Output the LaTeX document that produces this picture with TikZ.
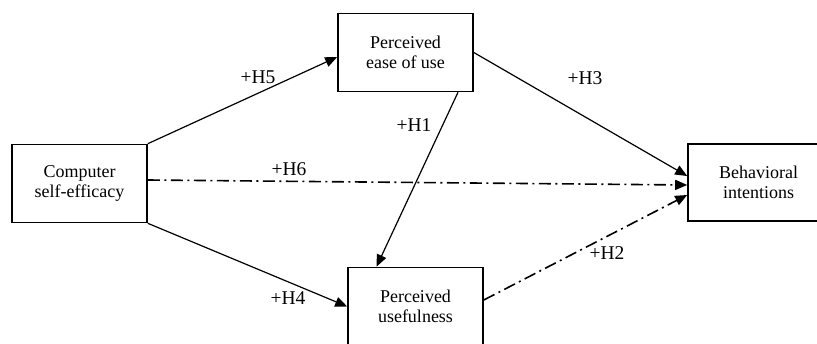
\documentclass[tikz,border=0pt]{standalone}
\usepackage{fontspec}
\setmainfont{Liberation Serif}
\usepackage{xcolor}
\usepackage{tikz}
\usetikzlibrary{arrows.meta,positioning}

\begin{document}
\begin{tikzpicture}[x=1pt, y=1pt,
      var/.style={draw, line width=1.6pt, fill=white,
                  minimum width=135pt, minimum height=78pt,
                  inner sep=0pt, font=\fontsize{18}{20}\selectfont, align=center},
      hyp/.style={inner sep=0pt, font=\fontsize{19.5}{21}\selectfont},
      arr/.style={-{Triangle[length=12pt, width=10pt]}, line width=1.2pt},
      dd/.style={arr, line width=1.6pt, dash pattern=on 12pt off 4.5pt on 2pt off 4.5pt}
  ]
    \useasboundingbox (0,0) rectangle (817,343);
    \clip (0,0) rectangle (817,343);
    \node[var] (cse)  at (79.5,159.5) {Computer\\ self-efficacy};
    \node[var] (peou) at (405.5,290.5) {Perceived\\ ease of use};
    \node[var] (pu)   at (415.5,36.5) {Perceived\\ usefulness};
    \node[var, minimum width=141pt, minimum height=77pt] (bi) at (758.5,160.5) {Behavioral\\ intentions};
    % hypotheses
    \draw[arr] (cse.north east) -- ([yshift=-4.5pt]peou.west);
    \draw[arr] (cse.south east) -- (pu.west);
    \draw[dd]  ([yshift=3.5pt]cse.east) -- ([yshift=-2.5pt]bi.west);
    \draw[arr] (peou.east) -- ([yshift=6.5pt]bi.west);
    \draw[arr] ([xshift=52.5pt]peou.south) -- ([xshift=-39pt]pu.north);
    \draw[dd]  ([yshift=6.5pt]pu.east) -- ([yshift=-12.5pt]bi.west);
    \node[hyp] (h5) at (258,266) {+H5};
    \node[hyp] (h3) at (585,265) {+H3};
    \node[hyp] (h1) at (414,218) {+H1};
    \node[hyp] (h6) at (289,174) {+H6};
    \node[hyp] (h4) at (288,45)  {+H4};
    \node[hyp] (h2) at (607,90)  {+H2};
  \end{tikzpicture}
\end{document}
